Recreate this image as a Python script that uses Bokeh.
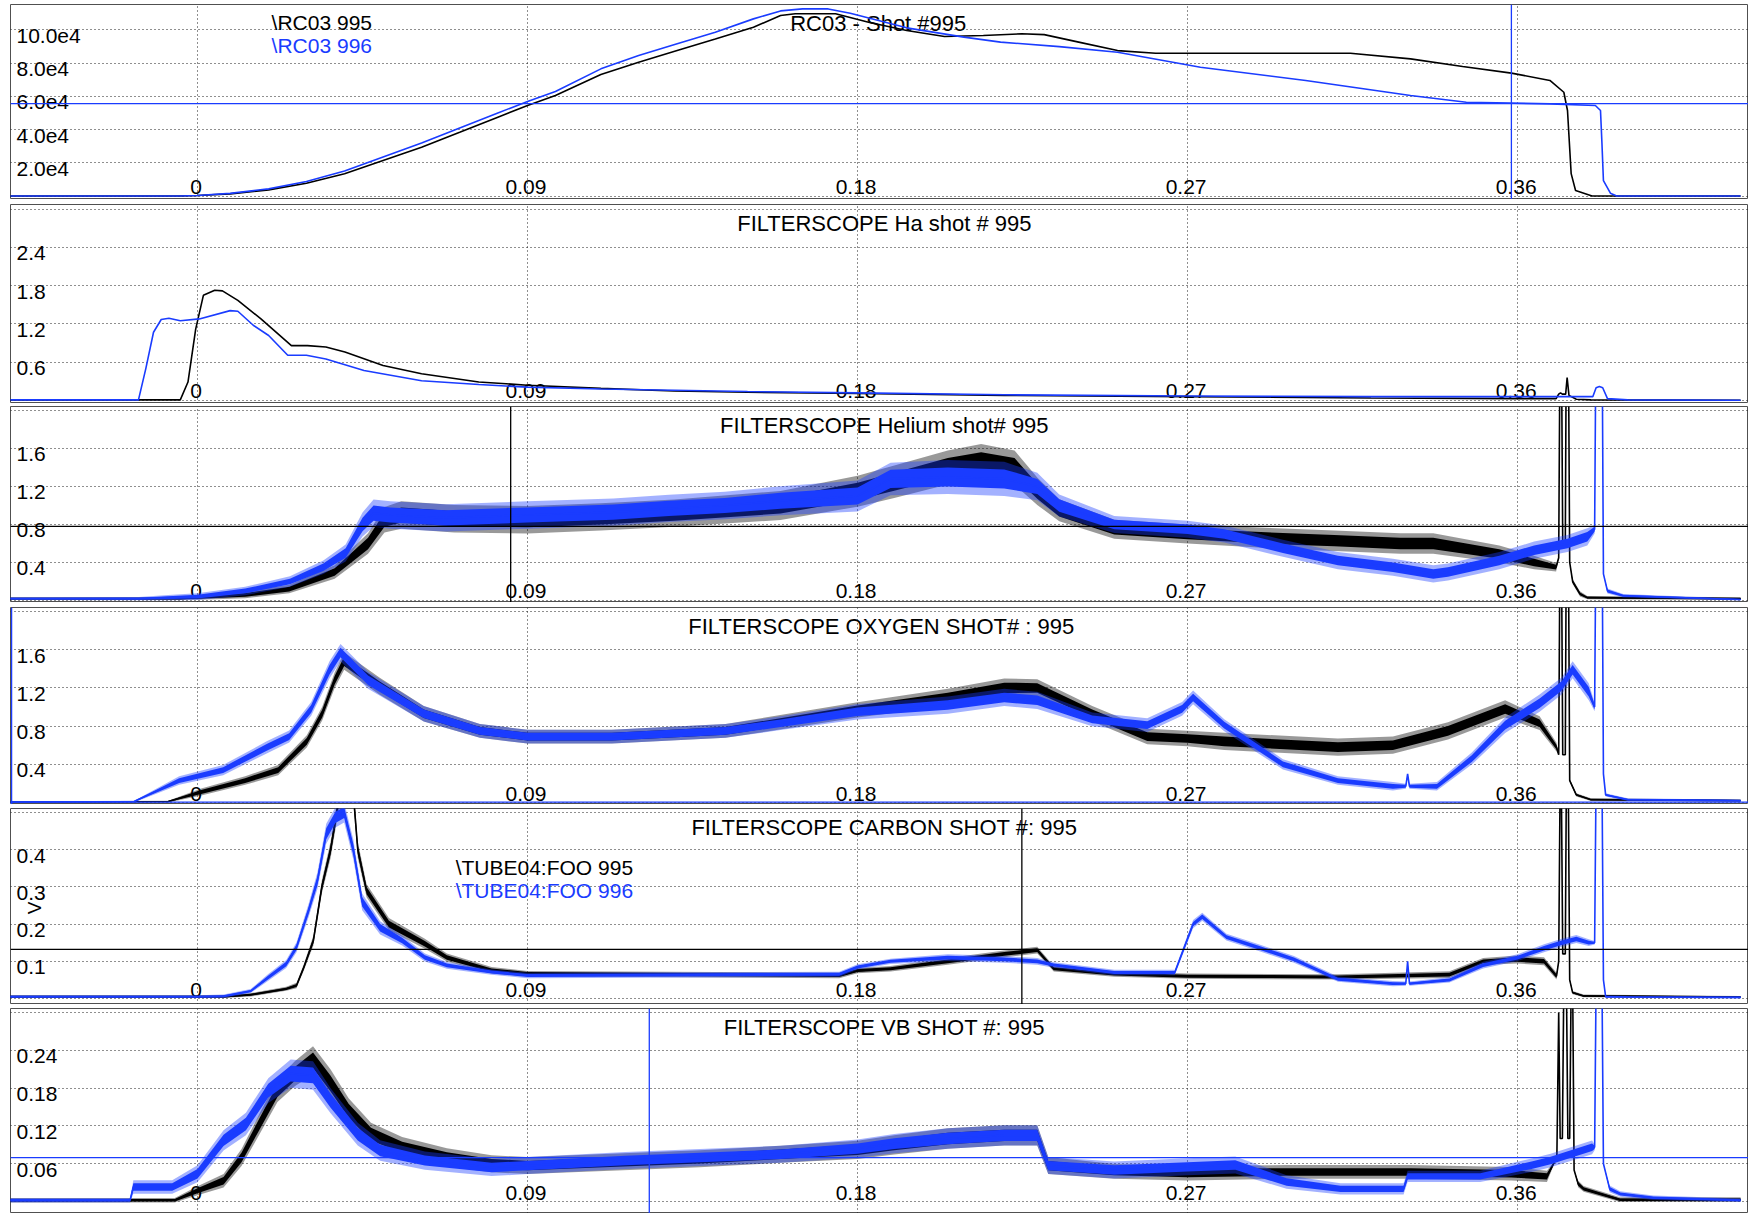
import math
import numpy as np
from bokeh.plotting import figure
from bokeh.models import ColumnDataSource, Span, Grid, FixedTicker, Range1d
from bokeh.layouts import column
from bokeh.embed import file_html
from bokeh.resources import INLINE
from bokeh.core.properties import value

# ---------------------------------------------------------------- data
X_TICKS = [0.0, 0.09, 0.18, 0.27, 0.36]
X_TICK_LABELS = ["0", "0.09", "0.18", "0.27", "0.36"]

# Panel 1 : RC03 (time s, value)
RC_995 = [(-0.0515, 0), (-0.005, 0), (0.0, 300), (0.0089, 1300), (0.0194, 3700), (0.0297, 7700),
          (0.0401, 13400), (0.0506, 21400), (0.0611, 29400), (0.0715, 38400), (0.0819, 47500),
          (0.09, 54500), (0.0976, 60500), (0.11, 73200), (0.1203, 80600), (0.1308, 87600),
          (0.1412, 94600), (0.1516, 101700), (0.159, 108700), (0.163, 109800), (0.174, 109800),
          (0.183, 104700), (0.1934, 99700), (0.2037, 96100), (0.2143, 96700), (0.2247, 97700),
          (0.2309, 97200), (0.2403, 92700), (0.2509, 87600), (0.2613, 86000), (0.3144, 86000),
          (0.3308, 82600), (0.345, 78000), (0.3583, 74000), (0.3688, 69600), (0.3726, 62500),
          (0.3736, 51500), (0.3746, 13500), (0.3758, 3300), (0.3803, 0), (0.4208, 0)]
RC_996 = [(-0.0515, 0), (-0.005, 0), (0.0, 300), (0.0089, 1600), (0.0194, 4300), (0.0297, 8700),
          (0.0401, 15000), (0.0506, 23500), (0.0611, 32000), (0.0715, 41000), (0.0819, 50000),
          (0.09, 57000), (0.0976, 63000), (0.11, 76600), (0.1203, 84600), (0.1308, 91700),
          (0.1412, 98700), (0.1516, 106700), (0.159, 111500), (0.165, 112700), (0.172, 112700),
          (0.178, 110100), (0.1934, 101300), (0.209, 95700), (0.219, 92700), (0.235, 90000),
          (0.2509, 86600), (0.2735, 77600), (0.3022, 69600), (0.3308, 60500), (0.346, 56500),
          (0.3688, 55500), (0.3812, 54500), (0.3826, 51500), (0.3830, 31400), (0.3834, 9300),
          (0.3853, 1700), (0.387, 0), (0.4208, 0)]
RC_YTICKS = [0, 20000, 40000, 60000, 80000, 100000]
RC_LABEL_TICKS = [20000, 40000, 60000, 80000, 100000]
RC_LABELS = ["2.0e4", "4.0e4", "6.0e4", "8.0e4", "10.0e4"]

# Panel 2 : H-alpha (time s, value)
HA_995 = [(-0.0515, 0.01), (-0.0047, 0.01), (-0.0026, 0.29), (-0.0005, 1.12), (0.0016, 1.65),
          (0.0047, 1.73), (0.0068, 1.72), (0.011, 1.57), (0.0173, 1.28), (0.0256, 0.86),
          (0.030, 0.86), (0.035, 0.84), (0.0402, 0.76), (0.0506, 0.55), (0.0611, 0.42),
          (0.0767, 0.29), (0.09, 0.24), (0.11, 0.19), (0.13, 0.15), (0.15, 0.13), (0.18, 0.11),
          (0.22, 0.08), (0.27, 0.06), (0.32, 0.04), (0.36, 0.03), (0.3705, 0.03), (0.3712, 0.10),
          (0.3717, 0.12), (0.3722, 0.10), (0.3731, 0.10), (0.3735, 0.36), (0.3740, 0.08),
          (0.3760, 0.02), (0.38, 0.01), (0.4208, 0.005)]
HA_996 = [(-0.0515, 0.01), (-0.0161, 0.01), (-0.0141, 0.50), (-0.0120, 1.07), (-0.0099, 1.27),
          (-0.0078, 1.29), (-0.0047, 1.25), (0.0005, 1.28), (0.0089, 1.41), (0.011, 1.40),
          (0.0152, 1.18), (0.0194, 1.02), (0.0246, 0.71), (0.0297, 0.71), (0.035, 0.65),
          (0.0454, 0.47), (0.0611, 0.31), (0.0767, 0.25), (0.09, 0.21), (0.11, 0.18), (0.13, 0.16),
          (0.15, 0.14), (0.18, 0.12), (0.22, 0.09), (0.27, 0.07), (0.32, 0.06), (0.36, 0.06),
          (0.3805, 0.06), (0.3814, 0.20), (0.3823, 0.22), (0.3832, 0.20), (0.3845, 0.03),
          (0.39, 0.01), (0.4208, 0.005)]
HA_YTICKS = [0, 0.6, 1.2, 1.8, 2.4, 3.0]
HA_LABEL_TICKS = [0.6, 1.2, 1.8, 2.4]
HA_LABELS = ["0.6", "1.2", "1.8", "2.4"]

# Panel 3 : Helium (time s, value, noise half-width)
HE_995 = [(-0.0515, 0.02, 0.015), (-0.005, 0.02, 0.015), (0.005, 0.04, 0.03), (0.013, 0.06, 0.04),
          (0.025, 0.12, 0.05), (0.0374, 0.30, 0.08), (0.0465, 0.60, 0.12), (0.051, 0.85, 0.15),
          (0.0556, 0.90, 0.16), (0.07, 0.86, 0.16), (0.09, 0.85, 0.16), (0.11, 0.88, 0.16),
          (0.13, 0.92, 0.16), (0.159, 1.00, 0.17), (0.18, 1.15, 0.18), (0.19, 1.25, 0.19),
          (0.2046, 1.40, 0.2), (0.2137, 1.45, 0.22), (0.2228, 1.40, 0.2), (0.229, 1.15, 0.16),
          (0.235, 0.95, 0.13), (0.25, 0.75, 0.11), (0.27, 0.70, 0.11), (0.296, 0.65, 0.12),
          (0.31, 0.63, 0.12), (0.328, 0.60, 0.12), (0.337, 0.60, 0.12), (0.355, 0.49, 0.1),
          (0.3645, 0.40, 0.08), (0.3705, 0.35, 0.05), (0.3712, 0.45, 0.0), (0.3716, 3.0, 0.0),
          (0.3719, 3.0, 0.0), (0.3723, 0.6, 0.0), (0.3730, 0.6, 0.0), (0.3733, 3.0, 0.0),
          (0.3738, 3.0, 0.0), (0.3742, 0.4, 0.0), (0.375, 0.2, 0.03), (0.377, 0.07, 0.03),
          (0.379, 0.03, 0.02), (0.4208, 0.02, 0.015)]
HE_996 = [(-0.0515, 0.02, 0.015), (-0.016, 0.02, 0.02), (-0.008, 0.03, 0.03), (0.0, 0.04, 0.04),
          (0.013, 0.10, 0.05), (0.0252, 0.20, 0.06), (0.0343, 0.35, 0.08), (0.0404, 0.50, 0.1),
          (0.045, 0.80, 0.14), (0.048, 0.92, 0.16), (0.0526, 0.90, 0.16), (0.0678, 0.87, 0.16),
          (0.09, 0.90, 0.16), (0.1134, 0.93, 0.16), (0.1286, 0.97, 0.16), (0.1438, 1.00, 0.16),
          (0.159, 1.05, 0.17), (0.18, 1.10, 0.18), (0.189, 1.28, 0.19), (0.2046, 1.30, 0.2),
          (0.22, 1.28, 0.2), (0.229, 1.20, 0.16), (0.235, 1.00, 0.13), (0.25, 0.80, 0.1),
          (0.27, 0.75, 0.1), (0.28, 0.70, 0.1), (0.296, 0.55, 0.1), (0.311, 0.42, 0.1),
          (0.326, 0.35, 0.1), (0.337, 0.28, 0.1), (0.341, 0.30, 0.1), (0.355, 0.42, 0.1),
          (0.3645, 0.53, 0.1), (0.3736, 0.60, 0.1), (0.379, 0.67, 0.1), (0.381, 0.75, 0.05),
          (0.3814, 3.0, 0.0), (0.3830, 3.0, 0.0), (0.3834, 0.28, 0.0), (0.3845, 0.10, 0.03),
          (0.3888, 0.05, 0.02), (0.4208, 0.01, 0.01)]
HE_YTICKS = [0, 0.4, 0.8, 1.2, 1.6, 2.0]
HE_LABEL_TICKS = [0.4, 0.8, 1.2, 1.6]
HE_LABELS = ["0.4", "0.8", "1.2", "1.6"]

# Panel 4 : Oxygen (time s, value, noise half-width)
OX_995 = [(-0.0515, 0.005, 0.005), (-0.008, 0.01, 0.01), (0.001, 0.11, 0.04), (0.013, 0.23, 0.05),
          (0.022, 0.34, 0.06), (0.0298, 0.64, 0.07), (0.034, 0.93, 0.08), (0.0374, 1.28, 0.09),
          (0.040, 1.48, 0.1), (0.0496, 1.22, 0.1), (0.0617, 0.93, 0.09), (0.077, 0.75, 0.08),
          (0.09, 0.69, 0.08), (0.113, 0.69, 0.08), (0.144, 0.75, 0.08), (0.18, 0.97, 0.09),
          (0.2046, 1.10, 0.1), (0.22, 1.20, 0.11), (0.229, 1.20, 0.1), (0.244, 0.93, 0.09),
          (0.259, 0.69, 0.09), (0.27, 0.67, 0.09), (0.28, 0.64, 0.1), (0.311, 0.58, 0.1),
          (0.326, 0.60, 0.1), (0.341, 0.75, 0.1), (0.3566, 0.98, 0.1), (0.366, 0.83, 0.08),
          (0.3706, 0.58, 0.05), (0.3712, 0.50, 0.0), (0.3716, 3.0, 0.0), (0.3719, 3.0, 0.0),
          (0.3723, 0.50, 0.0), (0.3730, 0.50, 0.0), (0.3733, 3.0, 0.0), (0.3738, 3.0, 0.0),
          (0.3742, 0.23, 0.02), (0.376, 0.08, 0.02), (0.38, 0.03, 0.015), (0.4208, 0.02, 0.01)]
OX_996 = [(-0.0515, 0.005, 0.005), (-0.0173, 0.01, 0.01), (-0.005, 0.23, 0.05), (0.007, 0.34, 0.06),
          (0.019, 0.58, 0.07), (0.025, 0.69, 0.07), (0.031, 0.98, 0.08), (0.036, 1.39, 0.1),
          (0.039, 1.57, 0.1), (0.0465, 1.28, 0.1), (0.0617, 0.93, 0.09), (0.077, 0.75, 0.08),
          (0.09, 0.69, 0.08), (0.113, 0.69, 0.08), (0.144, 0.75, 0.08), (0.159, 0.83, 0.08),
          (0.18, 0.95, 0.09), (0.2046, 1.02, 0.1), (0.22, 1.10, 0.1), (0.229, 1.07, 0.1),
          (0.244, 0.87, 0.08), (0.259, 0.81, 0.08), (0.2685, 0.98, 0.08), (0.2715, 1.10, 0.08),
          (0.28, 0.81, 0.07), (0.296, 0.40, 0.06), (0.311, 0.23, 0.05), (0.326, 0.17, 0.05),
          (0.3295, 0.17, 0.03), (0.3300, 0.30, 0.0), (0.3305, 0.17, 0.03), (0.338, 0.17, 0.05),
          (0.3475, 0.46, 0.07), (0.3566, 0.81, 0.09), (0.366, 1.04, 0.1), (0.372, 1.22, 0.1),
          (0.375, 1.39, 0.1), (0.3794, 1.16, 0.1), (0.381, 1.0, 0.05), (0.3814, 3.0, 0.0),
          (0.3830, 3.0, 0.0), (0.3834, 0.3, 0.0), (0.384, 0.08, 0.02), (0.39, 0.03, 0.015),
          (0.4208, 0.02, 0.01)]
OX_YTICKS = [0, 0.4, 0.8, 1.2, 1.6, 2.0]
OX_LABEL_TICKS = [0.4, 0.8, 1.2, 1.6]
OX_LABELS = ["0.4", "0.8", "1.2", "1.6"]

# Panel 5 : Carbon (time s, value, noise half-width)
CB_995 = [(-0.0515, 0.005, 0.004), (0.0071, 0.005, 0.004), (0.0145, 0.010, 0.005), (0.0242, 0.026, 0.006),
          (0.027, 0.035, 0.008), (0.029, 0.084, 0.01), (0.0316, 0.156, 0.015), (0.0339, 0.30, 0.02),
          (0.0363, 0.40, 0.025), (0.0388, 0.55, 0.03), (0.0425, 0.55, 0.03), (0.0437, 0.40, 0.025),
          (0.0461, 0.29, 0.02), (0.0522, 0.20, 0.018), (0.062, 0.147, 0.015), (0.068, 0.11, 0.012),
          (0.0802, 0.076, 0.01), (0.09, 0.067, 0.008), (0.175, 0.062, 0.008), (0.18, 0.075, 0.008),
          (0.189, 0.08, 0.008), (0.2046, 0.10, 0.01), (0.22, 0.12, 0.01), (0.229, 0.13, 0.01),
          (0.2335, 0.08, 0.008), (0.25, 0.066, 0.008), (0.27, 0.06, 0.008), (0.311, 0.058, 0.008),
          (0.3414, 0.064, 0.01), (0.3506, 0.10, 0.01), (0.36, 0.105, 0.012), (0.3672, 0.10, 0.012),
          (0.3706, 0.06, 0.01), (0.3712, 0.10, 0.0), (0.3716, 0.6, 0.0), (0.3719, 0.6, 0.0),
          (0.3723, 0.12, 0.0), (0.3730, 0.12, 0.0), (0.3733, 0.6, 0.0), (0.3738, 0.6, 0.0),
          (0.3742, 0.05, 0.005), (0.375, 0.016, 0.005), (0.378, 0.007, 0.004), (0.4208, 0.004, 0.003)]
CB_996 = [(-0.0515, 0.005, 0.004), (0.0, 0.005, 0.004), (0.0071, 0.006, 0.005), (0.0145, 0.02, 0.006),
          (0.0193, 0.057, 0.01), (0.0242, 0.093, 0.012), (0.027, 0.138, 0.015), (0.0303, 0.237, 0.02),
          (0.0327, 0.317, 0.025), (0.0351, 0.443, 0.03), (0.0376, 0.487, 0.03), (0.040, 0.50, 0.03),
          (0.0425, 0.40, 0.03), (0.0449, 0.26, 0.025), (0.0498, 0.19, 0.02), (0.0558, 0.156, 0.015),
          (0.062, 0.11, 0.012), (0.068, 0.089, 0.01), (0.0802, 0.071, 0.008), (0.09, 0.062, 0.008),
          (0.175, 0.065, 0.008), (0.18, 0.085, 0.008), (0.189, 0.10, 0.008), (0.2046, 0.11, 0.01),
          (0.22, 0.105, 0.01), (0.229, 0.10, 0.01), (0.2335, 0.09, 0.008), (0.25, 0.07, 0.008),
          (0.2665, 0.07, 0.008), (0.2715, 0.20, 0.012), (0.274, 0.22, 0.012), (0.2806, 0.165, 0.01),
          (0.29, 0.135, 0.01), (0.299, 0.105, 0.01), (0.311, 0.052, 0.008), (0.326, 0.04, 0.008),
          (0.3295, 0.04, 0.006), (0.3300, 0.10, 0.0), (0.3305, 0.04, 0.006), (0.3414, 0.05, 0.008),
          (0.3506, 0.09, 0.01), (0.36, 0.11, 0.01), (0.3672, 0.135, 0.012), (0.372, 0.15, 0.012),
          (0.376, 0.16, 0.012), (0.3794, 0.15, 0.01), (0.381, 0.15, 0.005), (0.3814, 0.6, 0.0),
          (0.3830, 0.6, 0.0), (0.3834, 0.05, 0.0), (0.384, 0.005, 0.004), (0.39, 0.004, 0.003),
          (0.4208, 0.003, 0.003)]
CB_YTICKS = [0, 0.1, 0.2, 0.3, 0.4, 0.5]
CB_LABEL_TICKS = [0.1, 0.2, 0.3, 0.4]
CB_LABELS = ["0.1", "0.2", "0.3", "0.4"]

# Panel 6 : VB (time s, value, noise half-width)
VB_995 = [(-0.0515, 0.002, 0.004), (-0.0062, 0.002, 0.004), (0.0, 0.017, 0.008), (0.0071, 0.033, 0.012),
          (0.012, 0.07, 0.015), (0.0169, 0.123, 0.018), (0.0218, 0.176, 0.02), (0.0266, 0.203, 0.022),
          (0.0315, 0.224, 0.025), (0.0363, 0.187, 0.025), (0.0412, 0.144, 0.022), (0.0473, 0.107, 0.02),
          (0.0558, 0.086, 0.018), (0.068, 0.07, 0.016), (0.0802, 0.06, 0.015), (0.09, 0.057, 0.015),
          (0.137, 0.068, 0.015), (0.159, 0.075, 0.015), (0.18, 0.082, 0.016), (0.19, 0.09, 0.017),
          (0.2046, 0.10, 0.018), (0.22, 0.105, 0.018), (0.229, 0.105, 0.018), (0.232, 0.057, 0.015),
          (0.25, 0.048, 0.013), (0.27, 0.045, 0.013), (0.297, 0.047, 0.012), (0.3308, 0.047, 0.012),
          (0.3583, 0.044, 0.012), (0.368, 0.04, 0.01), (0.3707, 0.07, 0.0), (0.3712, 0.30, 0.0),
          (0.3716, 0.10, 0.0), (0.3722, 0.10, 0.0), (0.3726, 0.35, 0.0), (0.3733, 0.35, 0.0),
          (0.3737, 0.10, 0.0), (0.3742, 0.10, 0.0), (0.3746, 0.35, 0.0), (0.3750, 0.35, 0.0),
          (0.3754, 0.05, 0.0), (0.3765, 0.028, 0.006), (0.378, 0.02, 0.005), (0.3879, 0.003, 0.004),
          (0.4208, 0.003, 0.004)]
VB_996 = [(-0.0515, 0.002, 0.004), (-0.0184, 0.002, 0.004), (-0.0175, 0.023, 0.012), (-0.0069, 0.023, 0.012),
          (0.0, 0.044, 0.015), (0.0071, 0.097, 0.018), (0.0132, 0.123, 0.02), (0.0193, 0.176, 0.022),
          (0.0254, 0.203, 0.025), (0.0315, 0.20, 0.025), (0.0363, 0.16, 0.022), (0.0437, 0.107, 0.02),
          (0.0498, 0.081, 0.018), (0.062, 0.065, 0.016), (0.0802, 0.054, 0.015), (0.09, 0.057, 0.015),
          (0.1167, 0.065, 0.015), (0.137, 0.07, 0.015), (0.159, 0.075, 0.015), (0.18, 0.084, 0.016),
          (0.19, 0.092, 0.017), (0.2046, 0.10, 0.018), (0.22, 0.105, 0.018), (0.229, 0.105, 0.018),
          (0.232, 0.057, 0.015), (0.25, 0.05, 0.015), (0.27, 0.055, 0.015), (0.283, 0.058, 0.015),
          (0.297, 0.031, 0.012), (0.3117, 0.02, 0.01), (0.3289, 0.02, 0.01), (0.3300, 0.04, 0.01),
          (0.3498, 0.04, 0.01), (0.3641, 0.058, 0.012), (0.369, 0.065, 0.012), (0.3803, 0.086, 0.012),
          (0.381, 0.086, 0.005), (0.3814, 0.35, 0.0), (0.3830, 0.35, 0.0), (0.3834, 0.06, 0.0),
          (0.3851, 0.02, 0.006), (0.388, 0.012, 0.005), (0.397, 0.006, 0.004), (0.4208, 0.002, 0.003)]
VB_YTICKS = [0, 0.06, 0.12, 0.18, 0.24, 0.30]
VB_LABEL_TICKS = [0.06, 0.12, 0.18, 0.24]
VB_LABELS = ["0.06", "0.12", "0.18", "0.24"]

TITLES = ["RC03  -  Shot #995", "FILTERSCOPE Ha shot # 995", "FILTERSCOPE Helium shot# 995",
          "FILTERSCOPE  OXYGEN SHOT# : 995", "FILTERSCOPE CARBON SHOT #: 995", "FILTERSCOPE VB SHOT #: 995"]
RC_LEGEND = ["\\RC03 995", "\\RC03 996"]
CB_LEGEND = ["\\TUBE04:FOO 995", "\\TUBE04:FOO 996"]

# cursor markers (vertical time, horizontal level)
RC_CURSOR = (0.3583, 55700)
HE_CURSOR = (0.0854, 0.78)
OX_CURSOR = (-0.0507, 0.005)
CB_CURSOR = (0.2248, 0.132)
VB_CURSOR = (0.1232, 0.0698)

# ---------------------------------------------------------------- style
BLACK = "#000000"
BLUE = "#1a3cff"
FONT = "Liberation Sans"
LEFT_PAD = 10
X_START, X_END = -0.05100, 0.42296
TITLE_X = 0.1873
LEGEND_X1 = 0.0202
LEGEND_X5 = 0.0704
WIDTH = 1748
OUTER_NOISE = 0.9     # sparse spiky fringe of the noisy traces
INNER_NOISE = 0.5     # dense core of the noisy traces
GRID_COLOR = "#1e1e1e"


def add_text(p, xs, ys, texts, color="black", size="21px", align="left",
             x_off=0, y_off=0, angle=0.0):
    src = ColumnDataSource(dict(x=list(xs), y=list(ys), text=list(texts)))
    p.text(x="x", y="y", text="text", source=src, text_color=color, text_font=value(FONT),
           text_font_size=size, text_align=align, text_baseline="middle",
           x_offset=x_off, y_offset=y_off, angle=angle)


def add_trace(p, rows, color, noisy):
    arr = np.array(rows, dtype=float)
    t, y = arr[:, 0], arr[:, 1]
    if noisy:
        hw = arr[:, 2]
        p.varea(x=t, y1=y - hw * OUTER_NOISE, y2=y + hw * OUTER_NOISE, fill_color=color, fill_alpha=0.4)
        p.varea(x=t, y1=y - hw * INNER_NOISE, y2=y + hw * INNER_NOISE, fill_color=color, fill_alpha=1.0)
    p.line(t, y, line_color=color, line_width=1.6)


def make_panel(frame_h, gap, yr, yticks, label_ticks, labels, title,
               traces, noisy, cursor, cursor_color):
    p = figure(width=WIDTH, height=frame_h + gap, x_range=Range1d(X_START, X_END),
               y_range=Range1d(*yr), output_backend="svg", toolbar_location=None,
               x_axis_location=None, y_axis_location=None, min_border=0)
    p.min_border_top = gap
    p.min_border_bottom = 0
    p.min_border_left = LEFT_PAD
    p.min_border_right = 0
    p.background_fill_color = "white"
    p.border_fill_color = "white"
    p.outline_line_color = "#505050"
    p.outline_line_width = 1
    p.center = [r for r in p.center if not isinstance(r, Grid)]
    p.add_layout(Grid(dimension=0, ticker=FixedTicker(ticks=X_TICKS), grid_line_color=GRID_COLOR,
                      grid_line_dash="1 3", grid_line_width=1))
    p.add_layout(Grid(dimension=1, ticker=FixedTicker(ticks=yticks), grid_line_color=GRID_COLOR,
                      grid_line_dash="1 3", grid_line_width=1))
    # y tick labels inside the frame, hanging just below their grid line
    add_text(p, [X_START] * len(labels), label_ticks, labels, x_off=6, y_off=6)
    # x tick labels sitting on the zero line
    add_text(p, X_TICKS, [0] * len(X_TICKS), X_TICK_LABELS, align="center", x_off=-1.5, y_off=-9)
    # panel title
    add_text(p, [TITLE_X], [yr[1]], [title], size="22px", align="center", y_off=18.5)
    for rows, col in traces:
        add_trace(p, rows, col, noisy)
    vx, hy = cursor
    p.add_layout(Span(location=vx, dimension="height", line_color=cursor_color, line_width=1.3))
    p.add_layout(Span(location=hy, dimension="width", line_color=cursor_color, line_width=1.3))
    return p


RC_YR = (-2108, 115361)
p1 = make_panel(195, 4, RC_YR, RC_YTICKS, RC_LABEL_TICKS, RC_LABELS, TITLES[0],
                [(RC_995, BLACK), (RC_996, BLUE)], False, RC_CURSOR, BLUE)
add_text(p1, [LEGEND_X1], [RC_YR[1]], [RC_LEGEND[0]], color=BLACK, y_off=17.5)
add_text(p1, [LEGEND_X1], [RC_YR[1]], [RC_LEGEND[1]], color=BLUE, y_off=41)

p2 = make_panel(199, 5, (-0.0471, 3.0745), HA_YTICKS, HA_LABEL_TICKS, HA_LABELS, TITLES[1],
                [(HA_995, BLACK), (HA_996, BLUE)], False, (-1, -1), BLACK)

p3 = make_panel(196, 3, (-0.0211, 2.0421), HE_YTICKS, HE_LABEL_TICKS, HE_LABELS, TITLES[2],
                [(HE_995, BLACK), (HE_996, BLUE)], True, HE_CURSOR, BLACK)

p4 = make_panel(197, 5, (-0.0209, 2.0419), OX_YTICKS, OX_LABEL_TICKS, OX_LABELS, TITLES[3],
                [(OX_995, BLACK), (OX_996, BLUE)], True, OX_CURSOR, BLUE)

CB_YR = (-0.0161, 0.5108)
p5 = make_panel(196, 4, CB_YR, CB_YTICKS, CB_LABEL_TICKS, CB_LABELS, TITLES[4],
                [(CB_995, BLACK), (CB_996, BLUE)], True, CB_CURSOR, BLACK)
add_text(p5, [LEGEND_X5], [CB_YR[1]], [CB_LEGEND[0]], color=BLACK, y_off=59)
add_text(p5, [LEGEND_X5], [CB_YR[1]], [CB_LEGEND[1]], color=BLUE, y_off=82)
add_text(p5, [X_START], [CB_YR[1]], ["V"], size="19px", align="center",
         x_off=24, y_off=99.5, angle=math.pi / 2)

p6 = make_panel(205, 4, (-0.019, 0.3063), VB_YTICKS, VB_LABEL_TICKS, VB_LABELS, TITLES[5],
                [(VB_995, BLACK), (VB_996, BLUE)], True, VB_CURSOR, BLUE)

layout = column(p1, p2, p3, p4, p5, p6, spacing=0)
open("out.html", "w").write(file_html(layout, INLINE))
